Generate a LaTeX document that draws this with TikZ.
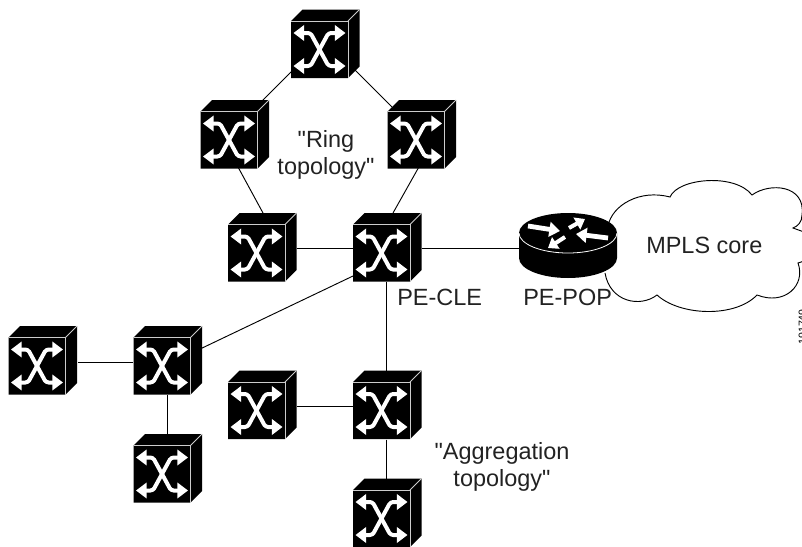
\documentclass[tikz,border=0pt]{standalone}
\usepackage{fontspec}
\newfontfamily\plainsans{Liberation Sans}
\usetikzlibrary{calc,arrows.meta}
\definecolor{inktext}{HTML}{222222}
\tikzset{
  x=0.75pt,y=-0.75pt,
  switchnode/.style={inner sep=0pt,minimum width=42.75pt,minimum height=42.75pt},
  routernode/.style={inner sep=0pt,minimum width=73.5pt,minimum height=49.5pt},
  wire/.style={line width=0.7pt,black},
  edgeline/.style={line width=0.55pt,white!80!black},
  label/.style={inner sep=0pt,font=\plainsans\fontsize{17.6pt}{20.25pt}\selectfont,text=inktext},
  swarrow/.style={white,line width=3pt,rounded corners=2pt,
    {Triangle[length=8pt,width=11.5pt]}-{Triangle[length=8pt,width=11.5pt]}},
  rtarrow/.style={white,line width=3.6pt,-{Triangle[length=8pt,width=11pt]}},
  rtarrows/.style={white,line width=3pt,-{Triangle[length=7pt,width=10pt]}},
  switchicon/.pic={
    \fill[black] (-28.5,-28.5) -- (-17,-40) -- (40,-40) -- (40,17) -- (28.5,28.5) -- (-28.5,28.5) -- cycle;
    \draw[edgeline] (-28.5,-28.5) -- (28.5,-28.5) -- (28.5,28.5);
    \draw[edgeline] (28.5,-28.5) -- (40,-40);
    \draw[swarrow] (-26,-16.5) -- (-9,-16.5) -- (9,16.5) -- (26,16.5);
    \draw[swarrow] (-26,16.5) -- (-9,16.5) -- (9,-16.5) -- (26,-16.5);
  }
}
\begin{document}
\begin{tikzpicture}
\useasboundingbox (0,0) rectangle (802,546);
% named anchors for the devices
\node[switchnode] (top) at (319.5,49.5) {};
\node[switchnode] (ringl) at (229,140) {};
\node[switchnode] (ringr) at (416,140) {};
\node[switchnode] (lring) at (256.5,253) {};
\node[switchnode] (pe) at (381.5,253) {};
\node[switchnode] (far) at (37,366) {};
\node[switchnode] (mid) at (162,366) {};
\node[switchnode] (below) at (162,474) {};
\node[switchnode] (aggl) at (256.5,410.5) {};
\node[switchnode] (aggc) at (381.5,410.5) {};
\node[switchnode] (aggb) at (381.5,518.5) {};
\node[routernode] (router) at (568,245) {};
% cloud
\draw[line width=0.7pt,black]
  (608,226) .. controls (612,205) and (640,189) .. (670,197)
  .. controls (678,178) and (735,173) .. (752,195)
  .. controls (770,182) and (806,185) .. (802,215)
  .. controls (802,222) and (798,226) .. (793,228) -- (804,232);
\draw[line width=0.7pt,black]
  (804,261) -- (798,263)
  .. controls (806,285) and (785,306) .. (757,295)
  .. controls (735,318) and (680,316) .. (657,295)
  .. controls (640,308) and (610,302) .. (605,273);
% connectors
\draw[wire] ($(top)+(-27.5,21.5)$) -- ($(ringl)+(29,-35)$);
\draw[wire] ($(top)+(35.5,20.5)$) -- ($(ringr)+(-24,-33)$);
\draw[wire] ($(ringl)+(9,27)$) -- ($(lring)+(6.5,-40)$);
\draw[wire] ($(ringr)+(4,25)$) -- ($(pe)+(11.5,-40)$);
\draw[wire] ($(lring)+(40,-5)$) -- ($(pe)+(-28.5,-5)$);
\draw[wire] ($(pe)+(40.5,-5)$) -- ($(router)+(-46,3)$);
\draw[wire] ($(pe)+(-28.5,23)$) -- ($(mid)+(36,-16)$);
\draw[wire] ($(pe)+(4.5,29)$) -- ($(aggc)+(4.5,-40)$);
\draw[wire] ($(aggl)+(40.5,-4.5)$) -- ($(aggc)+(-28.5,-4.5)$);
\draw[wire] ($(aggc)+(4.5,29)$) -- ($(aggb)+(4.5,-40)$);
\draw[wire] ($(far)+(41,-4)$) -- ($(mid)+(-29,-4)$);
\draw[wire] ($(mid)+(5,29)$) -- ($(below)+(5,-40)$);
% switches
\foreach \n in {top,ringl,ringr,lring,pe,far,mid,below,aggl,aggc,aggb}
  \pic at (\n) {switchicon};
% router
\begin{scope}[shift={(router)}]
  \fill[black] (-49,-12) -- (-49,13) arc[start angle=180,end angle=360,x radius=49,y radius=-20] -- (49,-12) arc[start angle=0,end angle=180,x radius=49,y radius=-20] -- cycle;
  \draw[line width=0.6pt,white] (-49,-12) arc[start angle=180,end angle=360,x radius=49,y radius=-20];
  \draw[rtarrow] (-40,-19) -- (-8,-14);
  \draw[rtarrows] (1,-17) -- (17,-26);
  \draw[rtarrow] (40,-7) -- (8,-11);
  \draw[rtarrows] (-3,-8) -- (-20,3);
\end{scope}
% labels
\node[label,align=center] (ringtxt) at (326,155) {"Ring\\topology"};
\node[label,anchor=base west] (pecle) at (397,305) {PE-CLE};
\node[label,anchor=base west] (pepop) at (523,305) {PE-POP};
\node[label,anchor=base west] (mpls) at (646,253) {MPLS core};
\node[label,align=center] (aggtxt) at (502,467) {"Aggregation\\topology"};
\node[inner sep=0pt,font=\plainsans\fontsize{8pt}{10pt}\selectfont,anchor=base west,rotate=90] (figid) at (806,345) {191749};
\end{tikzpicture}
\end{document}
